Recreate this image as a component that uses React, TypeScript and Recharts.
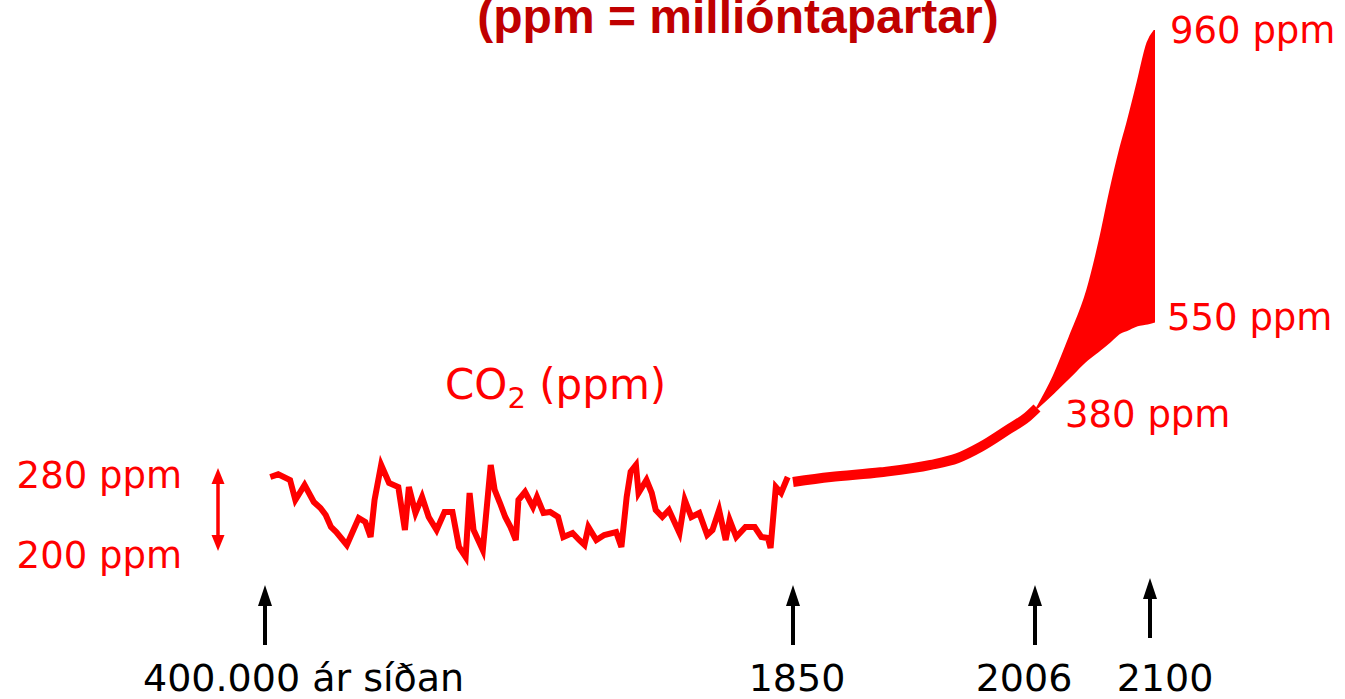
import React from "react";
import { ComposedChart, Line, Area, XAxis, YAxis } from "recharts";

// ice core record, thousand years before 1850 and CO2 in ppm
const iceAgeKyr = [
  396, 390, 381, 377, 370, 363, 358, 354, 350, 346, 338, 334, 329, 324, 320, 317,
  312, 306, 299, 294, 291, 286, 281, 276, 270, 264, 258, 253, 248, 245, 242, 235,
  229, 226, 222, 218, 214, 210, 208, 203, 197, 194, 189, 184, 178, 174, 167, 162,
  158, 155, 149, 143, 134, 130, 126, 123, 119, 117, 111, 107, 104, 99, 94, 86,
  82, 77, 71, 65, 61, 56, 51, 48, 43, 36, 29, 24, 19, 17, 13, 9, 4,
];
const icePpm = [
  278, 281, 275, 255, 270, 253, 247, 240, 228, 223, 210, 222, 237, 233, 218, 255,
  295, 272, 268, 225, 268, 242, 258, 238, 225, 243, 243, 208, 198, 262, 225, 205,
  295, 265, 252, 238, 228, 215, 255, 263, 248, 258, 242, 243, 238, 218, 222, 215,
  210, 228, 215, 220, 223, 208, 258, 285, 295, 262, 275, 262, 245, 238, 245, 222,
  255, 238, 242, 220, 225, 245, 215, 235, 218, 228, 228, 218, 217, 207, 268, 262, 278,
];

// measured 1850 - 2006
const modernYears = [1850, 1874, 1906, 1938, 1955, 1970, 1987, 2000, 2006];
const modernPpm = [273, 278, 284, 295, 305, 322, 347, 367, 380];

// scenario range up to 2100
const scenarioYears = [2006, 2019, 2032, 2046, 2056, 2064, 2072, 2078, 2086, 2094, 2100];
const scenarioLow = [380, 409, 440, 473, 492, 508, 525, 531, 540, 543, 547];
const scenarioHigh = [380, 440, 517, 592, 663, 730, 790, 829, 885, 942, 960];

const timeMarkYears = [1850 - 400000, 1850, 2006, 2100];
const timeMarkLabels = ["400.000 ár síðan", "1850", "2006", "2100"];
const leftPpmTicks = [280, 200];
const rightPpmTicks = [960, 550, 380];

// the slide is schematic: piecewise time and ppm axes
const TIME_KNOTS = [1850 - 400000, 1850, 2006, 2100];
const TIME_TRACK = [0, 528, 772, 890];
const PPM_KNOTS = [150, 280, 380, 550, 960];
const PPM_LEVEL = [0, 130, 197, 285, 575];

const interp = (xs: number[], ys: number[], v: number) => {
  for (let i = 1; i < xs.length; i++) {
    if (v <= xs[i] || i === xs.length - 1) {
      const t = (v - xs[i - 1]) / (xs[i] - xs[i - 1]);
      return ys[i - 1] + t * (ys[i] - ys[i - 1]);
    }
  }
  return ys[0];
};
const trackX = (year: number) => interp(TIME_KNOTS, TIME_TRACK, year);
const level = (ppm: number) => interp(PPM_KNOTS, PPM_LEVEL, ppm);

const iceData = iceAgeKyr.map((a, i) => ({ x: trackX(1850 - a * 1000), y: level(icePpm[i]) }));
const modernData = modernYears.map((yr, i) => ({ x: trackX(yr), y: level(modernPpm[i]) }));
const scenarioData = scenarioYears.map((yr, i) => ({
  x: trackX(yr),
  range: [level(scenarioLow[i]), level(scenarioHigh[i])],
}));

const RED = "#ff0000";
const FONT = "'DejaVu Sans', Verdana, sans-serif";

const TimeTick = (props: any) => {
  const { x, y, payload } = props;
  const i = timeMarkYears.findIndex((yr) => Math.abs(trackX(yr) - payload.value) < 0.01);
  if (i < 0) return null;
  const arrowDx = [0, 0, -2, -5][i];
  const labelDx = [-122, 4, -13, 10][i];
  const anchor = i === 0 ? "start" : "middle";
  const ax = x + arrowDx;
  const top = y - 20 - (i === 3 ? 7 : 0);
  return (
    <g>
      <polygon points={`${ax},${top} ${ax - 7},${top + 21} ${ax + 7},${top + 21}`} fill="#000" />
      <line x1={ax} x2={ax} y1={top + 18} y2={top + 60} stroke="#000" strokeWidth={4} />
      <text x={x + labelDx} y={y + 86} textAnchor={anchor} fontSize={38} fontFamily={FONT} fill="#000">
        {timeMarkLabels[i]}
      </text>
    </g>
  );
};

const LeftTick = (props: any) => {
  const { y, payload } = props;
  const ppm = leftPpmTicks.find((p) => Math.abs(level(p) - payload.value) < 0.01);
  if (ppm == null) return null;
  return (
    <text x={182} y={y + 13} textAnchor="end" fontSize={37} fontFamily={FONT} fill={RED}>
      {`${ppm} ppm`}
    </text>
  );
};

const RightTick = (props: any) => {
  const { x, y, payload } = props;
  const i = rightPpmTicks.findIndex((p) => Math.abs(level(p) - payload.value) < 0.01);
  if (i < 0) return null;
  const dx = [15, 12, -90][i];
  const dy = [13, 10, 19][i];
  return (
    <text x={x + dx} y={y + dy} textAnchor="start" fontSize={37} fontFamily={FONT} fill={RED}>
      {`${rightPpmTicks[i]} ppm`}
    </text>
  );
};

export default function App() {
  return (
    <div
      style={{
        position: "absolute",
        left: 0,
        top: 0,
        width: 1345,
        height: 699,
        overflow: "hidden",
        background: "#fff",
      }}
    >
      <ComposedChart width={1345} height={699} margin={{ top: 30, right: 0, bottom: 0, left: 0 }}>
        <XAxis
          type="number"
          dataKey="x"
          domain={[0, 890]}
          allowDataOverflow
          ticks={timeMarkYears.map(trackX)}
          interval={0}
          height={94}
          axisLine={false}
          tickLine={false}
          tickSize={0}
          tickMargin={0}
          tick={<TimeTick />}
        />
        <YAxis
          yAxisId="l"
          type="number"
          domain={[0, 575]}
          allowDataOverflow
          width={265}
          ticks={leftPpmTicks.map(level)}
          interval={0}
          axisLine={false}
          tickLine={false}
          tickSize={0}
          tickMargin={0}
          tick={<LeftTick />}
        />
        <YAxis
          yAxisId="r"
          orientation="right"
          type="number"
          domain={[0, 575]}
          allowDataOverflow
          width={190}
          ticks={rightPpmTicks.map(level)}
          interval={0}
          axisLine={false}
          tickLine={false}
          tickSize={0}
          tickMargin={0}
          tick={<RightTick />}
        />
        <Area
          yAxisId="r"
          data={scenarioData}
          dataKey="range"
          type="monotone"
          stroke={RED}
          strokeWidth={2}
          fill={RED}
          fillOpacity={1}
          isAnimationActive={false}
        />
        <Line
          yAxisId="l"
          data={modernData}
          dataKey="y"
          type="monotone"
          stroke={RED}
          strokeWidth={10}
          dot={false}
          isAnimationActive={false}
        />
        <Line
          yAxisId="l"
          data={iceData}
          dataKey="y"
          type="linear"
          stroke={RED}
          strokeWidth={6}
          strokeLinejoin="miter"
          dot={false}
          isAnimationActive={false}
        />
      </ComposedChart>
      <svg
        width={1345}
        height={699}
        style={{ position: "absolute", left: 0, top: 0, pointerEvents: "none" }}
      >
        <text
          x={738}
          y={33}
          textAnchor="middle"
          fontSize={48}
          fontWeight="bold"
          fontFamily="'Liberation Sans', Arial, sans-serif"
          fill="#c00000"
        >
          (ppm = millióntapartar)
        </text>
        <text x={445} y={399} fontSize={42} fontFamily={FONT} fill={RED}>
          CO
          <tspan fontSize={29} dy={9}>
            2
          </tspan>
          <tspan dy={-9}> (ppm)</tspan>
        </text>
        <line x1={218} x2={218} y1={478} y2={542} stroke={RED} strokeWidth={3.5} />
        <polygon points="218,468 211.5,484 224.5,484" fill={RED} />
        <polygon points="218,551 211.5,535 224.5,535" fill={RED} />
      </svg>
    </div>
  );
}
